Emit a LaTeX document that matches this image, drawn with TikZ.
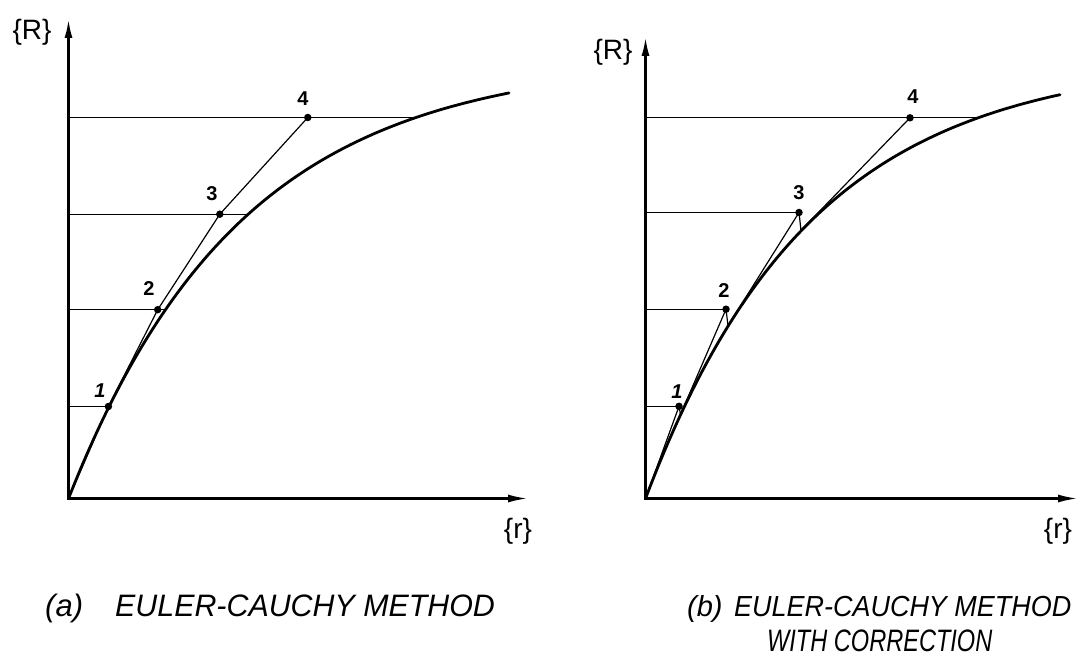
\documentclass[tikz,border=0pt]{standalone}
\usepackage{fontspec}
\setmainfont{Liberation Sans}
\usetikzlibrary{arrows.meta}
\begin{document}
\begin{tikzpicture}[x=1pt,y=-1pt,
  axes/.style={line width=2.4pt, line join=miter, {Latex[length=19pt,width=8pt]}-{Latex[length=20pt,width=8pt]}},
  curve/.style={line width=2.8pt, line cap=round},
  thinline/.style={line width=1.2pt},
  dot/.style={circle, fill=black, inner sep=0pt, minimum size=7.5pt},
  num/.style={font=\fontsize{20}{20}\selectfont\bfseries, inner sep=0pt},
  axlab/.style={font=\fontsize{28}{28}\selectfont, inner sep=0pt},
  capt/.style={font=\fontsize{31}{31}\selectfont\itshape, anchor=base west, inner sep=0pt},
  captb/.style={font=\fontsize{29}{29}\selectfont\itshape, anchor=base west, inner sep=0pt},
]
\useasboundingbox (0,0) rectangle (1090,671);

% ---------------- panel (a) ----------------
\coordinate (O1) at (68.5,498.5);
\coordinate (Y1) at (68.5,19);
\coordinate (X1) at (528,498.5);
\coordinate (P1) at (108.4,406.5);
\coordinate (P2) at (157.7,309.7);
\coordinate (P3) at (219.8,214.2);
\coordinate (P4) at (307.8,117.5);
\coordinate (C1) at (109.4,406.5);
\coordinate (C2) at (165.6,309.7);
\coordinate (C3) at (248.4,214.2);
\coordinate (C4) at (416.6,117.5);

\draw[curve] plot[domain=0:440.5, samples=90, smooth] ({68.5+\x},{498.5-440*(1-exp(-\x/173))});
\draw[thinline] (O1 |- C1) -- (C1);
\draw[thinline] (O1 |- C2) -- (C2);
\draw[thinline] (O1 |- C3) -- (C3);
\draw[thinline] (O1 |- C4) -- (C4);
\draw[thinline] (O1) -- (P1) -- (P2) -- (P3) -- (P4);
\draw[axes] (Y1) -- (O1) -- (X1);
\node[dot] (a1) at (P1) {};
\node[dot] (a2) at (P2) {};
\node[dot] (a3) at (P3) {};
\node[dot] (a4) at (P4) {};
\node[num] (na1) at (100,391) {\itshape 1};
\node[num] (na2) at (149,289) {2};
\node[num] (na3) at (212,193.5) {3};
\node[num] (na4) at (303,98.5) {4};
\node[axlab] (Ra) at (32,32) {\{R\}};
\node[axlab] (ra) at (518,531) {\{r\}};
\node[capt] (capa1) at (45,616) {(a)};
\node[capt] (capa2) at (115,616) {\scalebox{0.98}[1]{EULER-CAUCHY METHOD}};

% ---------------- panel (b) ----------------
\coordinate (O2) at (645.5,498.5);
\coordinate (Y2) at (645.5,37);
\coordinate (X2) at (1078,498.5);
\coordinate (Q1) at (679,406.3);
\coordinate (Q2) at (726,309.2);
\coordinate (Q3) at (799,212.5);
\coordinate (Q4) at (910,117.8);
\coordinate (F1) at (680.5,414.4);
\coordinate (F2) at (728,325.7);
\coordinate (F3) at (801,230.4);
\coordinate (D4) at (976.8,117.8);

\draw[curve] plot[domain=0:414.5, samples=90, smooth] ({645.5+\x},{498.5-440*(1-exp(-\x/166))});
\draw[thinline] (O2 |- Q1) -- (Q1);
\draw[thinline] (O2 |- Q2) -- (Q2);
\draw[thinline] (O2 |- Q3) -- (Q3);
\draw[thinline] (O2 |- D4) -- (D4);
\draw[thinline] (O2) -- (Q1) -- (F1);
\draw[thinline] (F1) -- (Q2) -- (F2);
\draw[thinline] (F2) -- (Q3) -- (F3);
\draw[thinline] (F3) -- (Q4);
\draw[axes] (Y2) -- (O2) -- (X2);
\node[dot] (b1) at (Q1) {};
\node[dot] (b2) at (Q2) {};
\node[dot] (b3) at (Q3) {};
\node[dot] (b4) at (Q4) {};
\node[num] (nb1) at (677,392) {\itshape 1};
\node[num] (nb2) at (724,291) {2};
\node[num] (nb3) at (799,193) {3};
\node[num] (nb4) at (913,97) {4};
\node[axlab] (Rb) at (613,52) {\{R\}};
\node[axlab] (rb) at (1058,531) {\{r\}};
\node[captb] (capb1) at (687,616) {(b)};
\node[captb] (capb2) at (734,616) {\scalebox{0.93}[1]{EULER-CAUCHY METHOD}};
\node[captb] (capb3) at (767,651) {\scalebox{0.76}[1]{\fontsize{31}{31}\selectfont WITH CORRECTION}};
\end{tikzpicture}
\end{document}
